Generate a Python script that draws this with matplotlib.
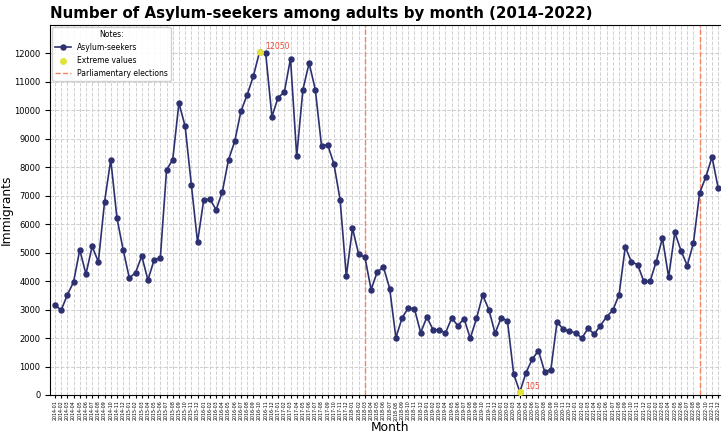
import matplotlib
matplotlib.use("Agg")
import matplotlib.pyplot as plt
import numpy as np
import pandas as pd

months = pd.period_range("2014-01", "2022-12", freq="M").strftime("%Y-%m").tolist()
seekers = [
    3170, 2980, 3520, 3970, 5100, 4250, 5220, 4680, 6780, 8270, 6220, 5100,
    4110, 4300, 4880, 4040, 4750, 4820, 7910, 8270, 10260, 9440, 7390, 5370,
    6860, 6880, 6510, 7140, 8270, 8910, 9970, 10540, 11200, 12050, 12000, 9780,
    10450, 10640, 11820, 8390, 10730, 11660, 10730, 8760, 8790, 8120, 6860, 4170,
    5860, 4940, 4850, 3700, 4330, 4490, 3740, 2010, 2710, 3060, 3020, 2190,
    2740, 2290, 2290, 2180, 2700, 2440, 2680, 1990, 2690, 3510, 3000, 2170,
    2720, 2600, 740, 105, 790, 1260, 1560, 820, 890, 2570, 2310, 2240,
    2180, 2000, 2340, 2140, 2440, 2750, 2980, 3520, 5200, 4680, 4580, 3990,
    3990, 4690, 5510, 4140, 5710, 5070, 4550, 5340, 7100, 7660, 8360, 7270,
]
elections = ["2018-03", "2022-09"]

W, H = 721, 434
fig = plt.figure(figsize=(W / 100, H / 100), dpi=100)
ax = fig.add_axes([50 / W, 1 - 395 / H, 680 / W, 370 / H])

x = np.arange(len(months))
ax.plot(x, seekers, color="#2d3070", marker="o", markersize=3.6, linewidth=1.2,
        label="Asylum-seekers", zorder=3)

imax = int(np.argmax(seekers))
imin = int(np.argmin(seekers))
ax.scatter([imax, imin], [seekers[imax], seekers[imin]], color="#e2e23a", s=16,
           zorder=4, label="Extreme values")
for i in (imax, imin):
    ax.annotate(str(seekers[i]), (i, seekers[i]), xytext=(4, 0.5),
                textcoords="offset points", fontsize=5.6, color="#f24a3a",
                va="bottom")

for k, e in enumerate(elections):
    ax.axvline(months.index(e), color="#f5835f", linestyle="--", linewidth=1,
               label="Parliamentary elections" if k == 0 else None, zorder=2)

ax.set_xlim(-0.8, 108.9)
ax.set_ylim(0, 13000)
ax.set_xticks(x)
ax.set_xticklabels(months, rotation=90, fontsize=3.4)
ax.set_yticks(np.arange(0, 12001, 1000))
ax.tick_params(axis="y", labelsize=6)
ax.tick_params(axis="x", length=2.5, pad=1.5)
ax.grid(True, linestyle="--", color="#d0d0d0", linewidth=0.7)
ax.set_axisbelow(True)

ax.set_xlabel("Month", fontsize=8.8, labelpad=0)
ax.set_ylabel("Immigrants", fontsize=8.8, labelpad=1)
ax.set_title("Number of Asylum-seekers among adults by month (2014-2022)",
             fontsize=10.8, fontweight="bold", loc="left", pad=5)

ax.legend(loc="upper left", title="Notes:", fontsize=5.5, title_fontsize=5.5,
          framealpha=0.9, borderaxespad=0.3)

fig.savefig("out.png", dpi=100, facecolor="white")
